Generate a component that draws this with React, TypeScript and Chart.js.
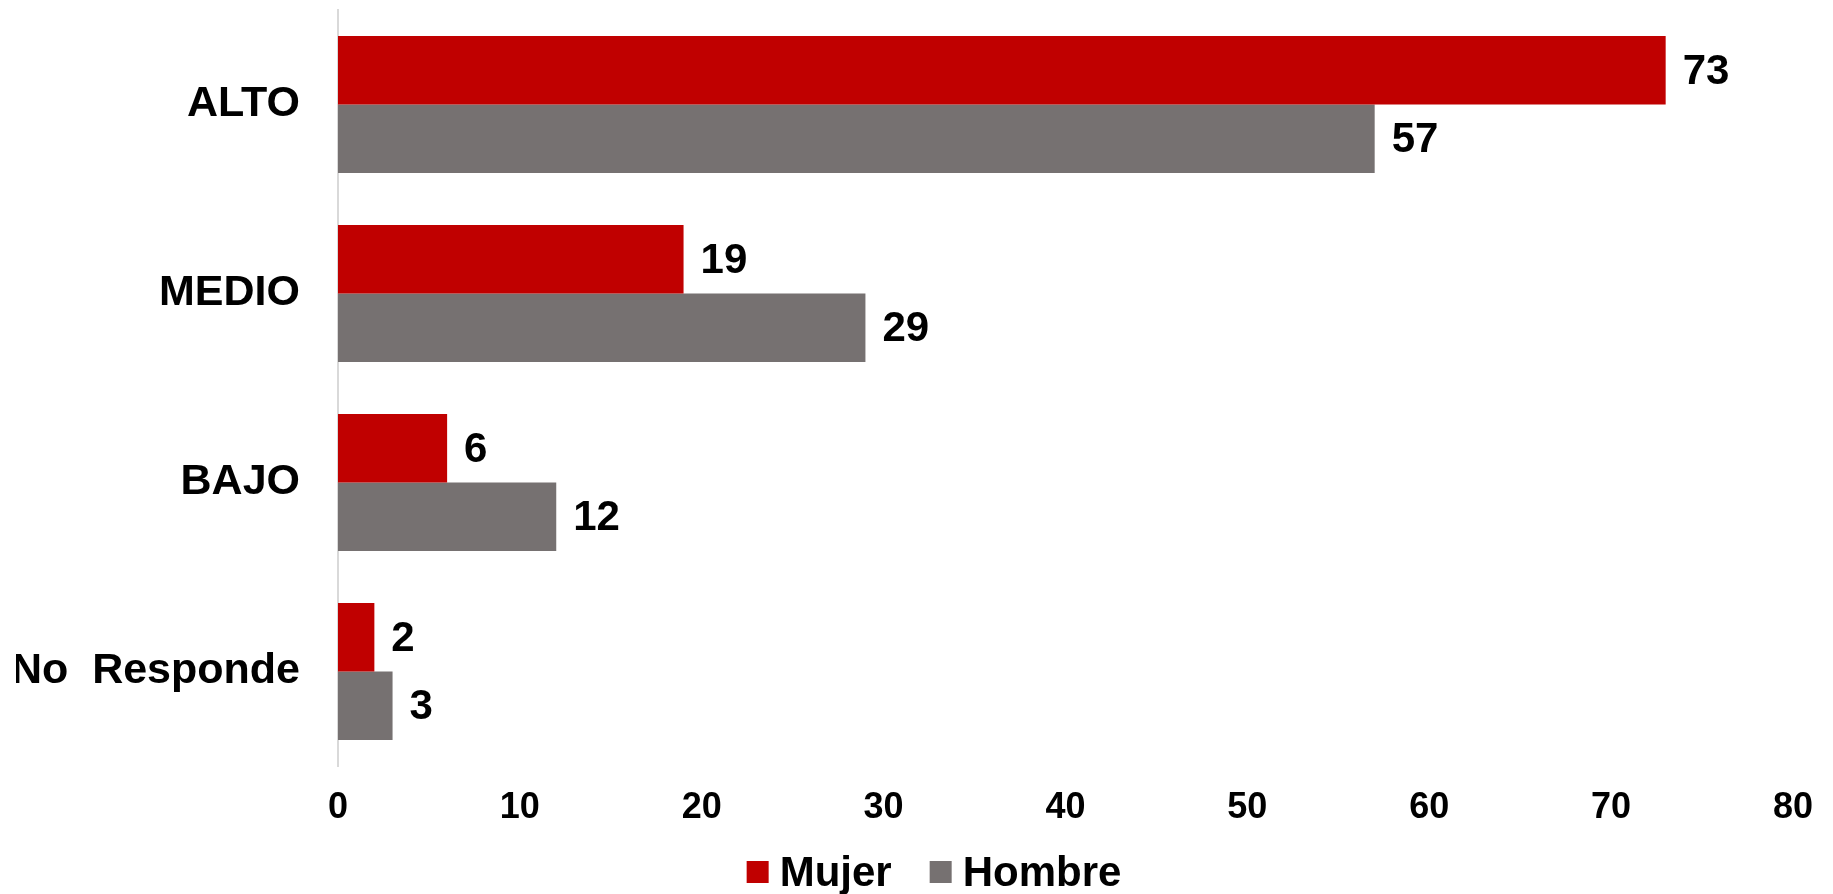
import React, { useEffect, useRef } from "react";
import { Chart, registerables } from "chart.js";

Chart.register(...registerables);

const categories = ["ALTO", "MEDIO", "BAJO", "No  Responde"];
const mujer = [73, 19, 6, 2];
const hombre = [57, 29, 12, 3];
const seriesNames = ["Mujer", "Hombre"];
const seriesColors = ["#C00000", "#767171"];
const xTicks = [0, 10, 20, 30, 40, 50, 60, 70, 80];

const FONT = "'Liberation Sans', Arial, sans-serif";

const valueLabels = {
  id: "valueLabels",
  afterDatasetsDraw(chart: any) {
    const ctx = chart.ctx;
    ctx.save();
    ctx.font = `bold 42px ${FONT}`;
    ctx.fillStyle = "#000000";
    ctx.textAlign = "left";
    ctx.textBaseline = "middle";
    chart.data.datasets.forEach((ds: any, i: number) => {
      const meta = chart.getDatasetMeta(i);
      meta.data.forEach((bar: any, j: number) => {
        ctx.fillText(String(ds.data[j]), bar.x + 17, bar.y + 2);
      });
    });
    ctx.restore();
  },
};

const bottomLegend = {
  id: "bottomLegend",
  afterDraw(chart: any) {
    const ctx = chart.ctx;
    ctx.save();
    ctx.font = `bold 42px ${FONT}`;
    ctx.textBaseline = "alphabetic";
    ctx.textAlign = "left";
    const box = 22;
    const gapText = 11;
    const gapItem = 38;
    const items = chart.data.datasets.map((ds: any) => ({
      text: ds.label,
      color: ds.backgroundColor,
      w: ctx.measureText(ds.label).width,
    }));
    const total =
      items.reduce((s: number, it: any) => s + box + gapText + it.w, 0) +
      gapItem * (items.length - 1);
    let x = 934 - total / 2;
    const cy = 872;
    items.forEach((it: any) => {
      ctx.fillStyle = it.color;
      ctx.fillRect(x, cy - box / 2, box, box);
      x += box + gapText;
      ctx.fillStyle = "#000000";
      ctx.fillText(it.text, x, cy + 14);
      x += it.w + gapItem;
    });
    ctx.restore();
  },
};

export default function App() {
  const ref = useRef<HTMLCanvasElement>(null);
  useEffect(() => {
    document.body.style.margin = "0";
    const chart = new Chart(ref.current!, {
      type: "bar",
      data: {
        labels: categories,
        datasets: [
          { label: seriesNames[0], data: mujer, backgroundColor: seriesColors[0] },
          { label: seriesNames[1], data: hombre, backgroundColor: seriesColors[1] },
        ],
      },
      options: {
        indexAxis: "y",
        animation: false,
        responsive: false,
        maintainAspectRatio: false,
        layout: { padding: { left: 16, right: 27, top: 10, bottom: 0 } },
        datasets: { bar: { barPercentage: 1, categoryPercentage: 0.725 } },
        scales: {
          x: {
            min: 0,
            max: 80,
            afterBuildTicks: (scale: any) => {
              scale.ticks = xTicks.map((v) => ({ value: v }));
            },
            grid: { display: false, drawTicks: false },
            border: { display: false },
            ticks: {
              padding: 20,
              color: "#000000",
              font: { family: FONT, size: 36, weight: "bold" },
            },
            afterFit: (scale: any) => {
              scale.height = 128;
            },
          },
          y: {
            grid: { display: false, drawTicks: false },
            border: { display: true, color: "#D9D9D9", width: 2 },
            ticks: {
              padding: 38,
              color: "#000000",
              font: { family: FONT, size: 43, weight: "bold" },
            },
            afterFit: (scale: any) => {
              scale.width = 322;
              scale.paddingTop = 0;
              scale.paddingBottom = 0;
            },
          },
        },
        plugins: {
          legend: { display: false },
          tooltip: { enabled: false },
        },
      },
      plugins: [valueLabels, bottomLegend],
    });
    return () => chart.destroy();
  }, []);
  return (
    <div style={{ width: 1833, height: 894 }}>
      <canvas ref={ref} width={1833} height={894} style={{ display: "block" }} />
    </div>
  );
}
